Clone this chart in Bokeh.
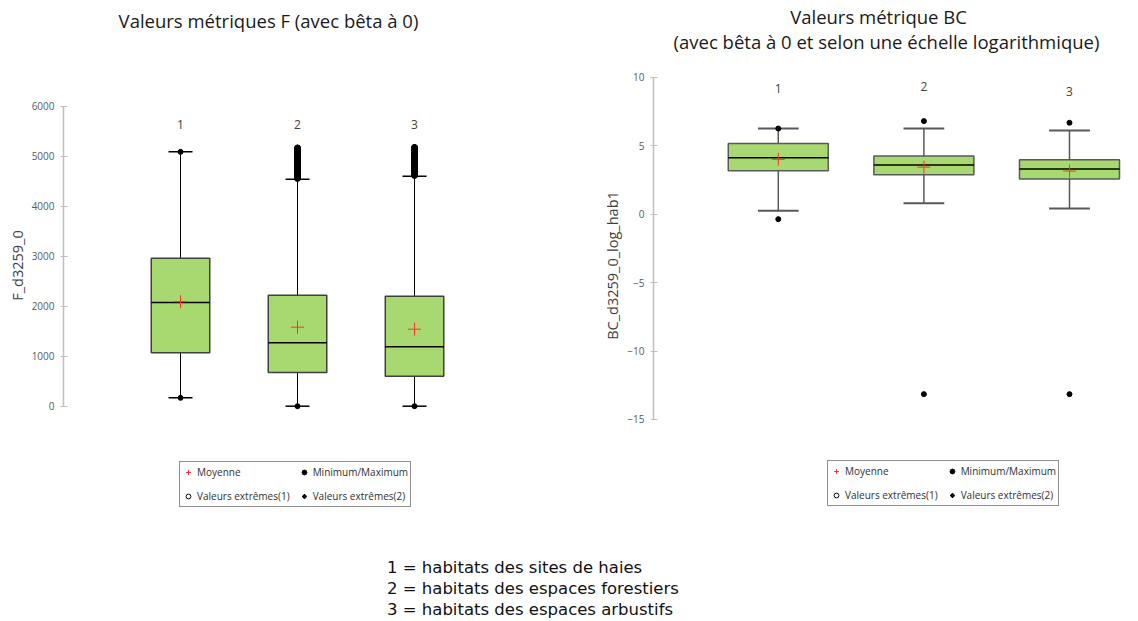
from bokeh.plotting import figure
from bokeh.models import FixedTicker, Label, Legend, LegendItem, Div, Range1d
from bokeh.layouts import column, row
from bokeh.core.properties import value
from bokeh.embed import file_html
from bokeh.resources import INLINE

# ---------------- data ----------------
groups = [1, 2, 3]
group_labels = ["1", "2", "3"]

# Metric F (beta = 0)
f_q1 = [1067, 673, 600]
f_median = [2073, 1267, 1187]
f_q3 = [2960, 2220, 2200]
f_whisker_low = [167, 0, 0]
f_whisker_high = [5087, 4540, 4600]
f_mean = [2090, 1580, 1540]
f_min = [167, 0, 0]
f_max = [5087, 5170, 5180]
f_outliers_2 = [4555, 4580, 4610, 4640, 4665, 4690, 4720, 4750, 4775, 4800, 4830, 4860,
                4885, 4910, 4940, 4970, 4995, 5020, 5050, 5080, 5105, 5130, 5150, 5165]
f_outliers_3 = [4615, 4640, 4670, 4700, 4725, 4750, 4780, 4810, 4835, 4860, 4890, 4920,
                4945, 4970, 5000, 5030, 5055, 5080, 5110, 5140, 5160, 5175]
f_ticks = [0, 1000, 2000, 3000, 4000, 5000, 6000]

# Metric BC (beta = 0, log scale)
bc_q1 = [3.16, 2.87, 2.56]
bc_median = [4.11, 3.58, 3.29]
bc_q3 = [5.16, 4.24, 3.97]
bc_whisker_low = [0.24, 0.80, 0.41]
bc_whisker_high = [6.25, 6.25, 6.11]
bc_mean = [4.00, 3.43, 3.14]
bc_min = [-0.37, -13.15, -13.15]
bc_max = [6.25, 6.79, 6.67]
bc_ticks = [-15, -10, -5, 0, 5, 10]

legend_labels = ["Moyenne", "Minimum/Maximum", "Valeurs extrêmes(1)", "Valeurs extrêmes(2)"]
title_f = "Valeurs métriques F (avec bêta à 0)"
title_bc_1 = "Valeurs métrique BC"
title_bc_2 = "(avec bêta à 0 et selon une échelle logarithmique)"
ylabel_f = "F_d3259_0"
ylabel_bc = "BC_d3259_0_log_hab1"
notes = ["1 = habitats des sites de haies",
         "2 = habitats des espaces forestiers",
         "3 = habitats des espaces arbustifs"]

# ---------------- styles ----------------
H = 530
GREEN = "#a8d971"
RED = "#ff3030"
FONT = "Open Sans"
NAN = float("nan")


def make_fig(width, border_left, xr, yr):
    p = figure(width=width, height=H, x_range=Range1d(*xr), y_range=Range1d(*yr),
               x_axis_type=None, title=None, output_backend="svg", toolbar_location=None,
               min_border_left=border_left, min_border_right=0, min_border_top=0,
               min_border_bottom=0)
    p.grid.visible = False
    p.outline_line_color = None
    p.background_fill_color = "white"
    p.border_fill_color = "white"
    return p


def style_axis(p, ticks, bounds, label):
    ax = p.yaxis[0]
    ax.ticker = FixedTicker(ticks=ticks)
    ax.bounds = bounds
    ax.axis_label = label
    ax.axis_label_text_font = FONT
    ax.axis_label_text_font_size = "14.5px"
    ax.axis_label_text_font_style = "normal"
    ax.axis_label_text_color = "#404040"
    ax.axis_label_standoff = 2
    ax.axis_line_color = "#bfbfbf"
    ax.axis_line_width = 1.5
    ax.major_tick_line_color = "#bfbfbf"
    ax.major_tick_in = 4
    ax.major_tick_out = 3
    ax.minor_tick_line_color = None
    ax.major_label_text_font = FONT
    ax.major_label_text_font_size = "10px"
    ax.major_label_text_color = "#595959"
    ax.major_label_standoff = 6


def draw_boxes(p, q1, med, q3, wl, wh, mean, vmin, vmax, box_w, cap_w,
               box_line, whisker_color, whisker_w):
    lo = [g - box_w / 2 for g in groups]
    hi = [g + box_w / 2 for g in groups]
    clo = [g - cap_w / 2 for g in groups]
    chi = [g + cap_w / 2 for g in groups]
    p.segment(x0=groups, x1=groups, y0=q3, y1=wh, line_color=whisker_color, line_width=whisker_w)
    p.segment(x0=groups, x1=groups, y0=q1, y1=wl, line_color=whisker_color, line_width=whisker_w)
    p.segment(x0=clo, x1=chi, y0=wh, y1=wh, line_color=whisker_color, line_width=whisker_w + 0.5)
    p.segment(x0=clo, x1=chi, y0=wl, y1=wl, line_color=whisker_color, line_width=whisker_w + 0.5)
    p.vbar(x=groups, width=box_w, bottom=q1, top=q3, fill_color=GREEN,
           line_color=box_line, line_width=1.5)
    p.segment(x0=lo, x1=hi, y0=med, y1=med, line_color="black", line_width=1.5)
    r_mm = p.scatter(x=groups + groups, y=vmin + vmax, marker="circle", size=5,
                     fill_color="black", line_color="black")
    r_mean = p.scatter(x=groups, y=mean, marker="cross", size=13, line_color=RED, line_width=1)
    return r_mean, r_mm


def legend_only_renderers(p):
    # renderers with a single NaN point: nothing drawn in the plot, glyph shown in legend
    r1 = p.scatter(x=[NAN], y=[NAN], marker="circle", size=5, fill_color="white",
                   line_color="black")
    r2 = p.scatter(x=[NAN], y=[NAN], marker="asterisk", size=7, line_color="black",
                   line_width=1.2)
    return r1, r2


def add_legend(p, r_mean, r_mm, r_out1, r_out2, loc):
    items = [LegendItem(label=legend_labels[0], renderers=[r_mean]),
             LegendItem(label=legend_labels[1], renderers=[r_mm]),
             LegendItem(label=legend_labels[2], renderers=[r_out1]),
             LegendItem(label=legend_labels[3], renderers=[r_out2])]
    lg = Legend(items=items, location=loc, orientation="horizontal", ncols=2,
                glyph_width=12, glyph_height=16, label_height=16, label_standoff=3,
                spacing=8, padding=2, margin=0,
                label_text_font=FONT, label_text_font_size="10px", label_text_color="#303030",
                border_line_color="#202020", border_line_width=1,
                background_fill_color="white", background_fill_alpha=1)
    p.add_layout(lg)


def px_to_data(px, py, frame_left, frame_w, xr, yr):
    x = xr[0] + (px - frame_left) / frame_w * (xr[1] - xr[0])
    y = yr[1] - py / H * (yr[1] - yr[0])
    return x, y


# ---------------- left chart (F) ----------------
L_XR = (0.0, 4.333)
L_YR = (-2486.0, 8114.0)
pf = make_fig(570, 63, L_XR, L_YR)
style_axis(pf, f_ticks, (0, 6000), ylabel_f)
r_mean_f, r_mm_f = draw_boxes(pf, f_q1, f_median, f_q3, f_whisker_low, f_whisker_high,
                              f_mean, f_min, f_max, 0.5, 0.205, "#404040", "black", 1)
pf.scatter(x=[2] * len(f_outliers_2) + [3] * len(f_outliers_3),
           y=f_outliers_2 + f_outliers_3, marker="circle", size=6,
           fill_color="black", line_color="black")
r_e1_f, r_e2_f = legend_only_renderers(pf)
pf.text(x=groups, y=[5634] * 3, text=group_labels, text_font=value(FONT),
        text_font_size="12px", text_color="#404040", text_align="center", text_baseline="middle")
add_legend(pf, r_mean_f, r_mm_f, r_e1_f, r_e2_f, (116, 23))

tx, ty = px_to_data(268, 20, 63, 507, L_XR, L_YR)
pf.add_layout(Label(x=tx, y=ty, text=title_f, text_font=FONT, text_font_size="18.5px",
                    text_color="#1a1a1a", text_align="center", text_baseline="middle"))

# ---------------- right chart (BC) ----------------
R_XR = (0.143, 3.419)
R_YR = (-23.11, 15.60)
pb = make_fig(560, 83, R_XR, R_YR)
style_axis(pb, bc_ticks, (-15, 10), ylabel_bc)
r_mean_b, r_mm_b = draw_boxes(pb, bc_q1, bc_median, bc_q3, bc_whisker_low, bc_whisker_high,
                              bc_mean, bc_min, bc_max, 0.687, 0.28, "#595959", "#595959", 1.5)
r_e1_b, r_e2_b = legend_only_renderers(pb)
pb.text(x=groups, y=[9.17, 9.32, 8.93], text=group_labels, text_font=value(FONT),
        text_font_size="12px", text_color="#404040", text_align="center", text_baseline="middle")
add_legend(pb, r_mean_b, r_mm_b, r_e1_b, r_e2_b, (174, 24))

for txt, cx, cy in [(title_bc_1, 878, 16), (title_bc_2, 886, 41)]:
    tx, ty = px_to_data(cx, cy, 653, 477, R_XR, R_YR)
    pb.add_layout(Label(x=tx, y=ty, text=txt, text_font=FONT, text_font_size="18.5px",
                        text_color="#1a1a1a", text_align="center", text_baseline="middle"))

# ---------------- bottom notes ----------------
notes_html = ("<div style=\"font-family:'DejaVu Sans';font-size:16.5px;line-height:21px;"
              "color:#111;padding-left:387px;padding-top:27px;white-space:nowrap;\">"
              + "<br>".join(notes) + "</div>")
bottom = Div(text=notes_html, width=1130, height=85, margin=(0, 0, 0, 0))

layout = column(row(pf, pb), bottom)
open("out.html", "w").write(file_html(layout, INLINE))
